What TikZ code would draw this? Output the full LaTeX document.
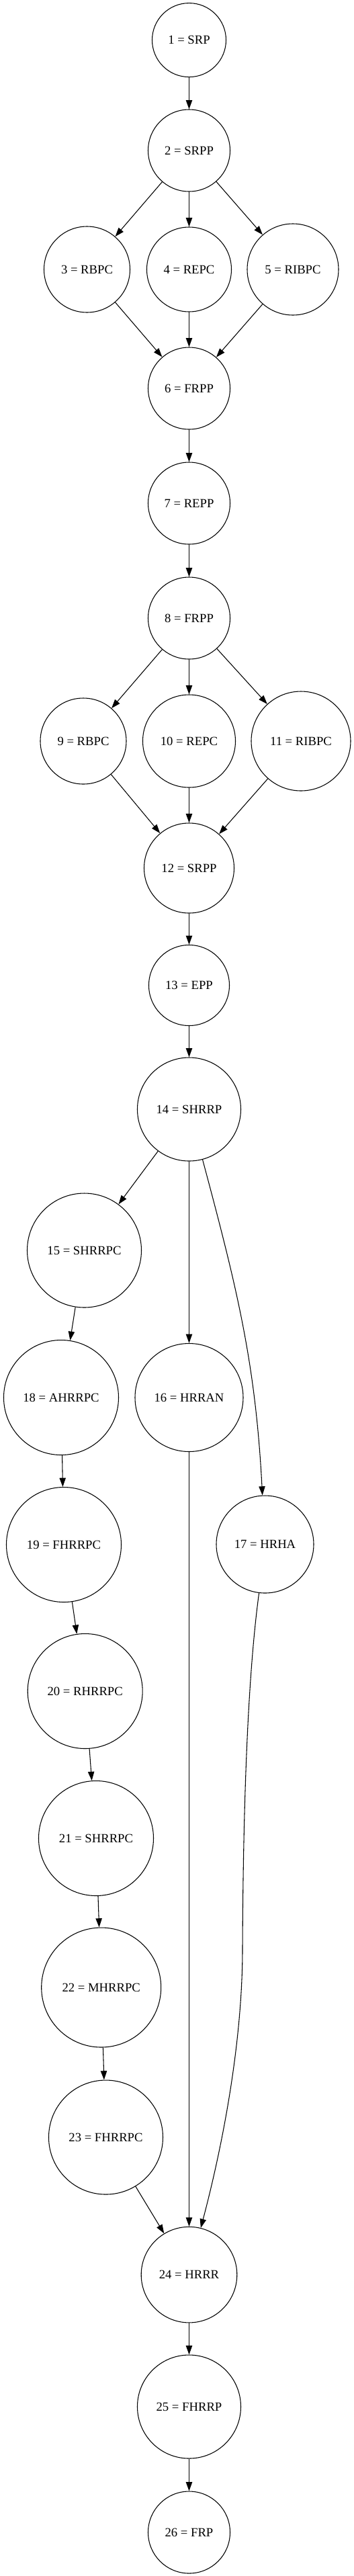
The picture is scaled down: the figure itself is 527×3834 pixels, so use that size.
\documentclass[tikz,border=0pt]{standalone}
\usepackage{fontspec}
\setmainfont{Liberation Serif}
\usetikzlibrary{arrows.meta}

\begin{document}
\begin{tikzpicture}[x=.75pt,y=-.75pt,line width=.8pt,
    st/.style={draw,circle,inner sep=0pt,minimum size=#1*1.5pt,font=\fontsize{14}{16}\selectfont},
    >={Triangle[length=10pt,width=7pt]}]
   \useasboundingbox (0,0) rectangle (527,3834);
   % top part
   \node[st=55] (1) at (281.5,59.6) {1 = SRP};
   \node[st=61] (2) at (281.5,224) {2 = SRPP};
   \node[st=64] (3) at (129.5,401) {3 = RBPC};
   \node[st=63] (4) at (281.5,401) {4 = REPC};
   \node[st=68] (5) at (436,401) {5 = RIBPC};
   \node[st=61] (6) at (281.5,578) {6 = FRPP};
   \node[st=61] (7) at (281.5,749) {7 = REPP};
   \node[st=61] (8) at (281.5,920) {8 = FRPP};
   \node[st=64] (9) at (124,1103) {9 = RBPC};
   \node[st=69] (10) at (281.5,1103) {10 = REPC};
   \node[st=74] (11) at (448,1103) {11 = RIBPC};
   \node[st=67] (12) at (281.5,1292) {12 = SRPP};
   \node[st=60] (13) at (281.5,1466.5) {13 = EPP};
   \node[st=77] (14) at (281.5,1651) {14 = SHRRP};
   % three branches
   \node[st=85] (15) at (125.5,1861) {15 = SHRRPC};
   \node[st=85.5] (18) at (91,2080) {18 = AHRRPC};
   \node[st=80.5] (16) at (281.5,2080) {16 = HRRAN};
   \node[st=85.5] (19) at (95,2299) {19 = FHRRPC};
   \node[st=72.5] (17) at (394.5,2298.5) {17 = HRHA};
   \node[st=85.5] (20) at (126.7,2517) {20 = RHRRPC};
   \node[st=85.5] (21) at (143,2736) {21 = SHRRPC};
   \node[st=89] (22) at (150.7,2958) {22 = MHRRPC};
   \node[st=85] (23) at (157.5,3181) {23 = FHRRPC};
   % bottom
   \node[st=71.3] (24) at (281.5,3385.6) {24 = HRRR};
   \node[st=77] (25) at (281.5,3582) {25 = FHRRP};
   \node[st=61] (26) at (281.5,3769) {26 = FRP};

   \draw[->] (1) -- (2);
   \draw[->] (2) -- (3);
   \draw[->] (2) -- (4);
   \draw[->] (2) -- (5);
   \draw[->] (3) -- (6);
   \draw[->] (4) -- (6);
   \draw[->] (5) -- (6);
   \draw[->] (6) -- (7);
   \draw[->] (7) -- (8);
   \draw[->] (8) -- (9);
   \draw[->] (8) -- (10);
   \draw[->] (8) -- (11);
   \draw[->] (9) -- (12);
   \draw[->] (10) -- (12);
   \draw[->] (11) -- (12);
   \draw[->] (12) -- (13);
   \draw[->] (13) -- (14);
   \draw[->] (14) -- (15);
   \draw[->] (14) -- (16);
   \draw[->] (14) to[out=-75,in=93] (17);
   \draw[->] (15) -- (18);
   \draw[->] (18) -- (19);
   \draw[->] (19) -- (20);
   \draw[->] (20) -- (21);
   \draw[->] (21) -- (22);
   \draw[->] (22) -- (23);
   \draw[->] (23) -- (24);
   \draw[->] (16) -- (24);
   \draw[->] (17.-97) .. controls (368,2500) and (362,2700) .. (361,2900)
      .. controls (361,3050) and (327,3210) .. (24.76);
   \draw[->] (24) -- (25);
   \draw[->] (25) -- (26);
\end{tikzpicture}
\end{document}
